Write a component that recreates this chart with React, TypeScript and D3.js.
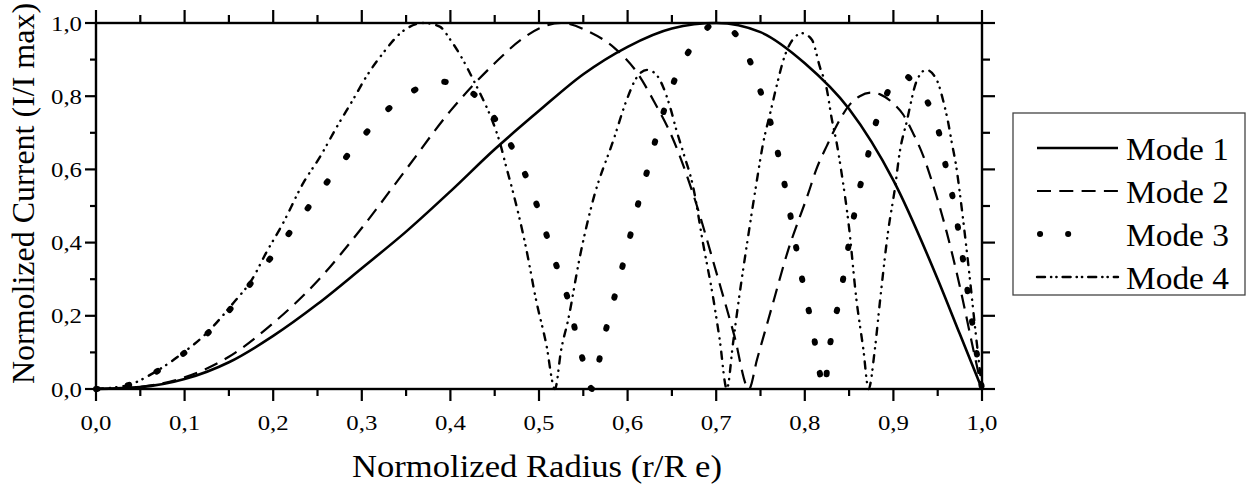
import React from "react";
import * as d3 from "d3";

// ---------- data ----------
const xTickValues = [0, 0.1, 0.2, 0.3, 0.4, 0.5, 0.6, 0.7, 0.8, 0.9, 1.0];
const xTickLabels = ["0,0", "0,1", "0,2", "0,3", "0,4", "0,5", "0,6", "0,7", "0,8", "0,9", "1,0"];
const xMinorValues = [0.05, 0.15, 0.25, 0.35, 0.45, 0.55, 0.65, 0.75, 0.85, 0.95];
const yTickValues = [0, 0.2, 0.4, 0.6, 0.8, 1.0];
const yTickLabels = ["0,0", "0,2", "0,4", "0,6", "0,8", "1,0"];
const yMinorValues = [0.1, 0.3, 0.5, 0.7, 0.9];

const seriesNames = ["Mode 1", "Mode 2", "Mode 3", "Mode 4"];

const mode1: [number, number][] = [
  [0, 0], [0.05, 0.005], [0.1, 0.027], [0.15, 0.073], [0.2, 0.145], [0.25, 0.232],
  [0.3, 0.33], [0.35, 0.43], [0.4, 0.54], [0.45, 0.655], [0.5, 0.76], [0.55, 0.86],
  [0.6, 0.935], [0.65, 0.985], [0.7, 1.0], [0.75, 0.975], [0.8, 0.89], [0.85, 0.765],
  [0.9, 0.57], [0.95, 0.3], [0.975, 0.15], [1, 0],
];

const mode2: [number, number][] = [
  [0, 0], [0.05, 0.006], [0.1, 0.032], [0.15, 0.088], [0.2, 0.18], [0.25, 0.295],
  [0.3, 0.44], [0.35, 0.6], [0.4, 0.76], [0.45, 0.89], [0.48, 0.955], [0.5, 0.985],
  [0.525, 1.0], [0.555, 0.978], [0.585, 0.932], [0.61, 0.867], [0.63, 0.785],
  [0.65, 0.69], [0.675, 0.525], [0.7, 0.32], [0.72, 0.15], [0.737, 0],
  [0.746, 0.08], [0.755, 0.157], [0.764, 0.234], [0.78, 0.37], [0.804, 0.535],
  [0.813, 0.6], [0.825, 0.665], [0.836, 0.72], [0.85, 0.775], [0.862, 0.8],
  [0.875, 0.81], [0.885, 0.805], [0.9, 0.78], [0.911, 0.75], [0.922, 0.7],
  [0.934, 0.635], [0.943, 0.571], [0.96, 0.43], [0.975, 0.28], [0.99, 0.11], [1, 0],
];

const mode3: [number, number][] = [
  [0, 0], [0.035, 0.01], [0.065, 0.043], [0.095, 0.09], [0.125, 0.15], [0.155, 0.228],
  [0.18, 0.305], [0.204, 0.38], [0.227, 0.455], [0.251, 0.533], [0.273, 0.605],
  [0.298, 0.68], [0.326, 0.756], [0.356, 0.812], [0.388, 0.84], [0.418, 0.82],
  [0.447, 0.749], [0.467, 0.672], [0.482, 0.6], [0.494, 0.527], [0.51, 0.41],
  [0.522, 0.32], [0.535, 0.225], [0.542, 0.148], [0.55, 0.075], [0.56, 0],
  [0.569, 0.09], [0.576, 0.166], [0.584, 0.24], [0.6, 0.39], [0.616, 0.544],
  [0.625, 0.62], [0.633, 0.694], [0.642, 0.768], [0.653, 0.844], [0.668, 0.918],
  [0.685, 0.975], [0.7, 1.0], [0.721, 0.972], [0.738, 0.897], [0.749, 0.82],
  [0.759, 0.749], [0.767, 0.672], [0.774, 0.597], [0.78, 0.524], [0.79, 0.39],
  [0.797, 0.3], [0.804, 0.22], [0.81, 0.148], [0.815, 0.07], [0.822, 0],
  [0.827, 0.097], [0.832, 0.17], [0.839, 0.243], [0.85, 0.4], [0.862, 0.549],
  [0.87, 0.624], [0.877, 0.7], [0.887, 0.773], [0.9, 0.84], [0.91, 0.86],
  [0.925, 0.83], [0.943, 0.76], [0.953, 0.685], [0.959, 0.61], [0.966, 0.535],
  [0.975, 0.41], [0.986, 0.23], [1, 0],
];

const mode4: [number, number][] = [
  [0, 0], [0.035, 0.01], [0.065, 0.044], [0.095, 0.093], [0.125, 0.153], [0.155, 0.235],
  [0.177, 0.303], [0.192, 0.372], [0.21, 0.448], [0.234, 0.563], [0.253, 0.635],
  [0.272, 0.717], [0.29, 0.79], [0.305, 0.853], [0.324, 0.918], [0.345, 0.975],
  [0.37, 1.0], [0.388, 0.99], [0.4, 0.954], [0.414, 0.9], [0.426, 0.844],
  [0.437, 0.79], [0.447, 0.735], [0.456, 0.672], [0.463, 0.607], [0.471, 0.535],
  [0.485, 0.39], [0.497, 0.24], [0.508, 0.125], [0.518, 0], [0.525, 0.107],
  [0.533, 0.19], [0.546, 0.36], [0.561, 0.516], [0.584, 0.68], [0.599, 0.79],
  [0.61, 0.85], [0.622, 0.872], [0.632, 0.86], [0.64, 0.826], [0.648, 0.77],
  [0.655, 0.708], [0.663, 0.645], [0.674, 0.552], [0.685, 0.4], [0.697, 0.243],
  [0.704, 0.134], [0.712, 0], [0.719, 0.125], [0.725, 0.235], [0.735, 0.4],
  [0.746, 0.571], [0.753, 0.672], [0.761, 0.754], [0.768, 0.826], [0.776, 0.9],
  [0.785, 0.95], [0.797, 0.972], [0.808, 0.954], [0.817, 0.88], [0.825, 0.817],
  [0.83, 0.744], [0.836, 0.672], [0.841, 0.598], [0.85, 0.44], [0.858, 0.25],
  [0.866, 0.11], [0.872, 0], [0.879, 0.107], [0.885, 0.243], [0.894, 0.43],
  [0.902, 0.553], [0.907, 0.645], [0.915, 0.73], [0.926, 0.84], [0.937, 0.872],
  [0.949, 0.844], [0.957, 0.78], [0.962, 0.726], [0.966, 0.672], [0.971, 0.607],
  [0.975, 0.535], [0.985, 0.33], [0.993, 0.15], [1, 0],
];

const seriesData = [mode1, mode2, mode3, mode4];

// ---------- styles ----------
const W = 1248;
const H = 489;
const M = { left: 96, right: 982, top: 23, bottom: 389 };
const FONT = "'Liberation Serif', 'Times New Roman', serif";

const lineStyles = [
  { width: 2.6, dash: "none", cap: "butt" },
  { width: 2.2, dash: "14 8.3", cap: "butt" },
  { width: 6, dash: "1.5 30.5", cap: "round" },
  { width: 2.4, dash: "7 7 0.3 6 0.3 7", cap: "round" },
];
const legendDash = ["none", "14 8.3", "0.1 28", "8 6 0.3 5 0.3 6"];

export default function App() {
  const x = d3.scaleLinear().domain([0, 1]).range([M.left, M.right]);
  const y = d3.scaleLinear().domain([0, 1]).range([M.bottom, M.top]);
  const line = d3
    .line<[number, number]>()
    .x((d) => x(d[0]))
    .y((d) => y(d[1]))
    .curve(d3.curveMonotoneX);

  const majorLen = 12;
  const minorLen = 7;

  const legend = { x: 1013, y: 113, w: 232, h: 182 };
  const legendRowY = [148, 191, 234, 277];

  return (
    <svg
      width={W}
      height={H}
      style={{ position: "absolute", left: 0, top: 0, background: "#fff" }}
      fontFamily={FONT}
    >
      <rect x={0} y={0} width={W} height={H} fill="#fff" />

      {/* curves */}
      <g fill="none" stroke="#000">
        {seriesData.map((d, i) => (
          <path
            key={i}
            d={line(d) || ""}
            strokeWidth={lineStyles[i].width}
            strokeDasharray={lineStyles[i].dash}
            strokeLinecap={lineStyles[i].cap as any}
            strokeLinejoin="round"
          />
        ))}
      </g>

      {/* frame */}
      <rect
        x={M.left}
        y={M.top}
        width={M.right - M.left}
        height={M.bottom - M.top}
        fill="none"
        stroke="#000"
        strokeWidth={2.4}
      />

      {/* ticks on all four sides */}
      <g stroke="#000" strokeWidth={2.2}>
        {xTickValues.map((v) => (
          <g key={"xm" + v}>
            <line x1={x(v)} x2={x(v)} y1={M.bottom} y2={M.bottom + majorLen} />
            <line x1={x(v)} x2={x(v)} y1={M.top} y2={M.top - majorLen - 1} />
          </g>
        ))}
        {xMinorValues.map((v) => (
          <g key={"xn" + v}>
            <line x1={x(v)} x2={x(v)} y1={M.bottom} y2={M.bottom + minorLen} />
            <line x1={x(v)} x2={x(v)} y1={M.top} y2={M.top - minorLen - 1} />
          </g>
        ))}
        {yTickValues.map((v) => (
          <g key={"ym" + v}>
            <line x1={M.left} x2={M.left - 11} y1={y(v)} y2={y(v)} />
            <line x1={M.right} x2={M.right + 13} y1={y(v)} y2={y(v)} />
          </g>
        ))}
        {yMinorValues.map((v) => (
          <g key={"yn" + v}>
            <line x1={M.left} x2={M.left - 6} y1={y(v)} y2={y(v)} />
            <line x1={M.right} x2={M.right + 8} y1={y(v)} y2={y(v)} />
          </g>
        ))}
      </g>

      {/* tick labels */}
      <g fontSize={22} fill="#000">
        {xTickValues.map((v, i) => (
          <text
            key={"xl" + v}
            x={x(v)}
            y={430}
            textAnchor="middle"
            textLength={31}
            lengthAdjust="spacingAndGlyphs"
          >
            {xTickLabels[i]}
          </text>
        ))}
        {yTickValues.map((v, i) => (
          <text
            key={"yl" + v}
            x={82}
            y={y(v) + 7.5}
            textAnchor="end"
            textLength={31}
            lengthAdjust="spacingAndGlyphs"
          >
            {yTickLabels[i]}
          </text>
        ))}
      </g>

      {/* axis titles */}
      <text
        x={(M.left + M.right) / 2 - 2}
        y={477}
        fontSize={31}
        textAnchor="middle"
        textLength={370}
        lengthAdjust="spacingAndGlyphs"
      >
        Normolized Radius (r/R e)
      </text>
      <text
        transform="translate(33.5,193.5) rotate(-90)"
        fontSize={32}
        textAnchor="middle"
      >
        Normolized Current (I/I max)
      </text>

      {/* legend */}
      <rect
        x={legend.x}
        y={legend.y}
        width={legend.w}
        height={legend.h}
        fill="#fff"
        stroke="#444"
        strokeWidth={1.3}
      />
      {seriesNames.map((name, i) => (
        <g key={name}>
          <line
            x1={i === 2 ? 1040 : 1037}
            x2={i === 2 ? 1096 : 1118}
            y1={legendRowY[i]}
            y2={legendRowY[i]}
            stroke="#000"
            strokeWidth={i === 2 ? 6 : lineStyles[i].width}
            strokeDasharray={legendDash[i]}
            strokeLinecap={lineStyles[i].cap as any}
          />
          <text
            x={1126}
            y={legendRowY[i] + 12}
            fontSize={32}
            textLength={103}
            lengthAdjust="spacingAndGlyphs"
          >
            {name}
          </text>
        </g>
      ))}
    </svg>
  );
}
